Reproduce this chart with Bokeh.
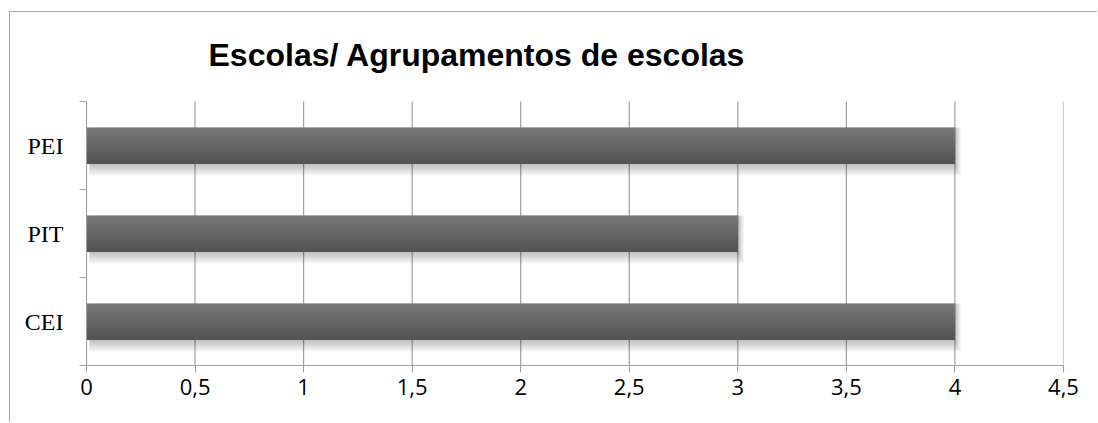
from bokeh.plotting import figure
from bokeh.models import ColumnDataSource, FixedTicker, Range1d, Label
from bokeh.transform import dodge
from bokeh.embed import file_html
from bokeh.resources import INLINE

# --- data ---
categories = ["CEI", "PIT", "PEI"]          # bottom to top
values = [4, 3, 4]
x_ticks = [0, 0.5, 1, 1.5, 2, 2.5, 3, 3.5, 4, 4.5]
x_tick_labels = ["0", "0,5", "1", "1,5", "2", "2,5", "3", "3,5", "4", "4,5"]
title_text = "Escolas/ Agrupamentos de escolas"

positions = [i + 0.5 for i in range(len(categories))]
source = ColumnDataSource(data=dict(y=positions, value=values, cat=categories))

GRID = "#a0a0a0"
X_MAX = 4.5
Y_MAX = len(categories)
PX_PER_X = 977 / X_MAX     # horizontal pixels per value unit
PX_PER_Y = 88              # vertical pixels per category band
HEAD_ROOM = 89             # pixels above the bars reserved for the heading

px_x = 1 / PX_PER_X
px_y = 1 / PX_PER_Y

p = figure(
    width=1088, height=411,
    x_range=Range1d(0, X_MAX), y_range=Range1d(0, Y_MAX + HEAD_ROOM * px_y),
    output_backend="svg", toolbar_location=None,
    min_border_left=76, min_border_right=35,
    min_border_top=0, min_border_bottom=58,
)
p.styles = {
    "margin-left": "9px", "margin-top": "11px",
    "border-top": "1px solid #a6a6a6", "border-left": "1px solid #a6a6a6",
}
p.outline_line_color = None
p.background_fill_color = "white"
p.border_fill_color = "white"
p.xgrid.grid_line_color = None
p.ygrid.grid_line_color = None

# vertical grid lines, only over the category area
grid = p.segment(x0=x_ticks, x1=x_ticks, y0=0, y1=Y_MAX,
                 line_color=GRID, line_width=1.2)
grid.level = "underlay"

# chart heading
heading = Label(
    x=122 * px_x, y=Y_MAX + 47 * px_y,
    text=title_text, text_font="Liberation Sans", text_font_style="bold",
    text_font_size="32px", text_color="black",
    text_align="left", text_baseline="alphabetic",
)
p.add_layout(heading)

bar_h = 0.41

# soft drop shadow falling below and to the right of each bar
for r in range(1, 7):
    p.hbar(
        y=dodge("y", -r * px_y, range=p.y_range),
        left=3 * px_x,
        right=dodge("value", r * px_x, range=p.x_range),
        height=bar_h + 2 * r * px_y,
        source=source, fill_color="black", fill_alpha=0.045, line_color=None,
    )

# bars with a vertical shading from lighter top to darker bottom;
# each layer reaches down to the bar's bottom edge so no gaps show
n = 18
top_rgb = (0x77, 0x77, 0x77)
bot_rgb = (0x54, 0x54, 0x54)
sh = bar_h / n
for i in range(n):
    t = i / (n - 1)
    c = tuple(round(a + (b - a) * t) for a, b in zip(top_rgb, bot_rgb))
    col = "#%02x%02x%02x" % c
    h = bar_h - i * sh
    p.hbar(
        y=dodge("y", -bar_h / 2 + h / 2, range=p.y_range),
        left=0, right="value", height=h,
        source=source, fill_color=col, line_color=None,
    )

# x axis
p.xaxis.ticker = FixedTicker(ticks=x_ticks)
p.xaxis.major_label_overrides = {t: l for t, l in zip(x_ticks, x_tick_labels)}
p.xaxis.axis_line_color = GRID
p.xaxis.major_tick_line_color = GRID
p.xaxis.major_tick_out = 7
p.xaxis.major_tick_in = 0
p.xaxis.minor_tick_line_color = None
p.xaxis.major_label_text_font = "Open Sans"
p.xaxis.major_label_text_font_size = "22px"
p.xaxis.major_label_text_color = "black"
p.xaxis.major_label_standoff = 6

# y axis: labels at category centres, tick marks at category boundaries
p.yaxis.bounds = (0, Y_MAX)
p.yaxis.ticker = FixedTicker(ticks=positions, minor_ticks=list(range(len(categories) + 1)))
p.yaxis.major_label_overrides = {y: c for y, c in zip(positions, categories)}
p.yaxis.axis_line_color = GRID
p.yaxis.major_tick_line_color = None
p.yaxis.major_tick_out = 0
p.yaxis.major_tick_in = 0
p.yaxis.minor_tick_line_color = GRID
p.yaxis.minor_tick_out = 7
p.yaxis.minor_tick_in = 0
p.yaxis.major_label_text_font = "Liberation Serif"
p.yaxis.major_label_text_font_size = "24px"
p.yaxis.major_label_text_color = "black"
p.yaxis.major_label_standoff = 16

open("out.html", "w").write(file_html(p, INLINE))
